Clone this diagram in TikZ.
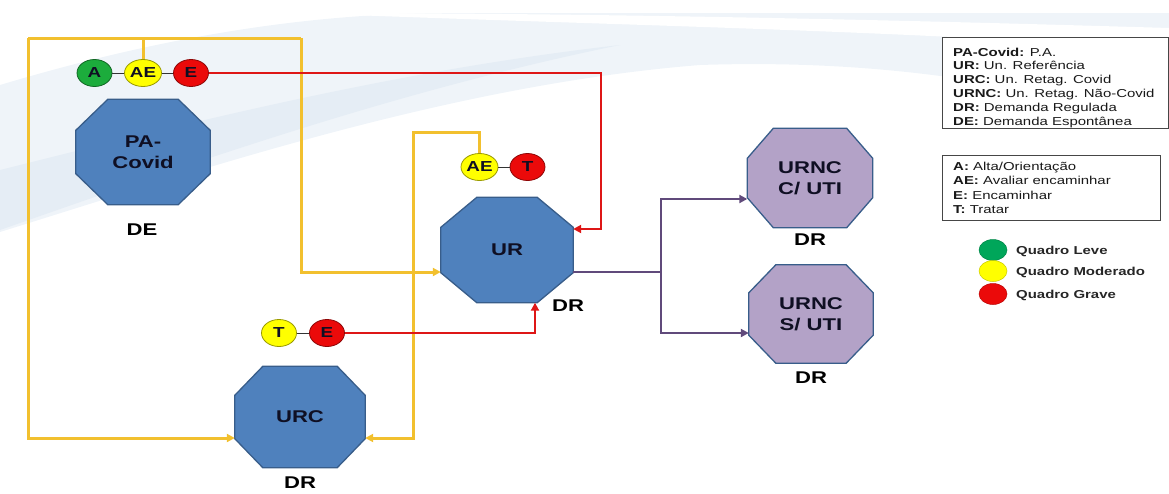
\documentclass[tikz,border=0pt]{standalone}
\usepackage{fontspec}
\setmainfont{Liberation Sans}[FakeStretch=1.3]
\usetikzlibrary{arrows.meta,calc,shapes.geometric}
\definecolor{octblue}{RGB}{79,129,189}
\definecolor{octedge}{RGB}{56,93,138}
\definecolor{octpurple}{RGB}{179,162,199}
\definecolor{ylw}{RGB}{242,192,46}
\definecolor{rd}{RGB}{222,22,22}
\definecolor{prp}{RGB}{96,74,123}
\definecolor{cgreen}{RGB}{28,172,60}
\definecolor{lgreen}{RGB}{0,166,90}
\definecolor{cyellow}{RGB}{255,255,0}
\definecolor{cred}{RGB}{235,10,10}
\definecolor{txtdark}{RGB}{15,15,35}
\definecolor{bgblue}{RGB}{239,244,249}
\definecolor{bgblue2}{RGB}{229,237,245}
\definecolor{legedge}{RGB}{70,70,70}
\newcommand{\octo}[9]{%
  \node[inner sep=0pt, minimum width=#4pt, minimum height=#5pt] (#1) at (#2,#3) {};
  \filldraw[fill=#8, draw=octedge, line width=1.3pt]
    ($(#1.north west)+(#6,0)$) -- ($(#1.north east)+(-#6,0)$) --
    ($(#1.north east)+(0,#7)$) -- ($(#1.south east)+(0,-#7)$) --
    ($(#1.south east)+(-#6,0)$) -- ($(#1.south west)+(#6,0)$) --
    ($(#1.south west)+(0,-#7)$) -- ($(#1.north west)+(0,#7)$) -- cycle;
  \node[octlabel] (#1-t) at (#1) {#9};
}
\begin{document}
\begin{tikzpicture}[x=1pt,y=-1pt,
  octlabel/.style={font=\fontsize{17}{21}\selectfont\bfseries, text=txtdark, align=center},
  lbl/.style={font=\fontsize{17}{18}\selectfont\bfseries, text=black},
  state/.style={ellipse, draw=#1!60!black, fill=#1, line width=0.8pt, minimum width=35pt,
    minimum height=27pt, inner sep=0pt, font=\fontsize{14.5}{14.5}\selectfont\bfseries, text=txtdark},
  yline/.style={draw=ylw, line width=3pt},
  rline/.style={draw=rd, line width=2.8pt},
  pline/.style={draw=prp, line width=2.8pt},
  thin/.style={draw=black!80, line width=0.8pt},
  arr/.style={-{Triangle[length=8pt,width=8pt]}},
  legbox/.style={draw=legedge, line width=1.2pt, fill=white, inner sep=0pt},
  legtxt/.style={font=\fontsize{11.5}{13}\selectfont, anchor=base west, inner sep=0pt, text=black!90},
  legdot/.style={ellipse, fill=#1, draw=#1!80!black, line width=0.5pt, minimum width=28pt, minimum height=21pt, inner sep=0pt},
  legq/.style={font=\fontsize{11.5}{13}\selectfont\bfseries, anchor=west, inner sep=0pt, text=black!85}
]
\useasboundingbox (0,0) rectangle (1169,493);
% background swoosh
\fill[bgblue] (0,85) .. controls (150,40) and (300,13) .. (450,13) -- (1169,13) -- (1169,125)
  .. controls (1000,75) and (850,60) .. (700,65)
  .. controls (450,85) and (200,170) .. (0,232) -- cycle;
\fill[bgblue2] (0,170) .. controls (200,120) and (400,70) .. (620,45)
  .. controls (400,90) and (200,160) .. (0,230) -- cycle;
\fill[white] (300,13) .. controls (600,13) and (900,20) .. (1169,28) -- (1169,50)
  .. controls (900,30) and (600,25) .. (300,13) -- cycle;

% octagons
\octo{PA}{143}{152}{134}{105}{32}{31}{octblue}{PA-\\Covid}
\octo{UR}{507}{250}{132}{105}{36}{30}{octblue}{UR}
\octo{URC}{300}{417}{130}{101}{28}{29}{octblue}{URC}
\octo{UC}{810}{178}{125}{99}{26}{30}{octpurple}{URNC\\C/ UTI}
\octo{US}{811}{314}{124}{98}{27}{28}{octpurple}{URNC\\S/ UTI}

% labels
\node[lbl] (lDE) at (142,230) {DE};
\node[lbl] (lUR) at (568,306) {DR};
\node[lbl] (lURC) at (300,483) {DR};
\node[lbl] (lUC) at (810,240) {DR};
\node[lbl] (lUS) at (811,378) {DR};

% status circles
\node[state=cgreen] (A1) at (94.5,73) {A};
\node[state=cyellow] (AE1) at (143,73) {AE};
\node[state=cred] (E1) at (191,73) {E};
\node[state=cyellow] (AE2) at (479.5,167) {AE};
\node[state=cred] (T2) at (527.5,167) {T};
\node[state=cyellow] (T3) at (279,333) {T};
\node[state=cred] (E3) at (327,333) {E};
\draw[thin] (A1) -- (AE1);
\draw[thin] (AE1) -- (E1);
\draw[thin] (AE2) -- (T2);
\draw[thin] (T3) -- (E3);

% coordinates
\coordinate (ytl) at (28,38);
\coordinate (ytr) at (301,38);
\coordinate (ymid) at (413,132);
\coordinate (rtr) at (601,73);
\coordinate (pj) at (661,272);
\coordinate (urW) at ($(UR.west)+(0,22)$);
\coordinate (urE) at ($(UR.east)+(0,-21)$);
\coordinate (urEo) at ($(UR.east)+(0,22)$);
\coordinate (urS) at ($(UR.south)+(28,0)$);
\coordinate (urcW) at ($(URC.west)+(0,21)$);
\coordinate (urcE) at ($(URC.east)+(0,21)$);
\coordinate (ucW) at ($(UC.west)+(0,21)$);
\coordinate (usW) at ($(US.west)+(0,19)$);

% yellow connectors
\draw[yline] (ytl) -- (ytr);
\draw[yline] (AE1.north) -- (AE1.north |- ytr);
\draw[yline,arr] (ytr) |- (urW);
\draw[yline,arr] (ytl) |- (urcW);
\draw[yline,arr] (AE2.north) |- (ymid) |- (urcE);

% red connectors
\draw[rline,arr] (E1.east) -- (rtr) |- (urE);
\draw[rline,arr] (E3.east) -| (urS);

% purple connectors
\draw[pline] (urEo) -- (pj);
\draw[pline,arr] (pj) |- (ucW);
\draw[pline,arr] (pj) |- (usW);

% legend box 1
\node[legbox, anchor=north west, minimum width=226pt, minimum height=91pt] (leg1) at (942,37) {};
\node[legtxt] (g1) at (953,56) {\textbf{PA-Covid:} P.A.};
\node[legtxt] (g2) at (953,69.8) {\textbf{UR:} Un. Referência};
\node[legtxt] (g3) at (953,83.6) {\textbf{URC:} Un. Retag. Covid};
\node[legtxt] (g4) at (953,97.4) {\textbf{URNC:} Un. Retag. Não-Covid};
\node[legtxt] (g5) at (953,111.2) {\textbf{DR:} Demanda Regulada};
\node[legtxt] (g6) at (953,125) {\textbf{DE:} Demanda Espontânea};

% legend box 2
\node[legbox, anchor=north west, minimum width=218pt, minimum height=65pt] (leg2) at (942,155) {};
\node[legtxt] (h1) at (953,170) {\textbf{A:} Alta/Orientação};
\node[legtxt] (h2) at (953,184.5) {\textbf{AE:} Avaliar encaminhar};
\node[legtxt] (h3) at (953,199) {\textbf{E:} Encaminhar};
\node[legtxt] (h4) at (953,213.5) {\textbf{T:} Tratar};

% legend dots
\node[legdot=lgreen] (d1) at (993,250) {};
\node[legdot=cyellow] (d2) at (993,271) {};
\node[legdot=cred] (d3) at (993,294) {};
\node[legq] (q1) at (1016,251) {Quadro Leve};
\node[legq] (q2) at (1016,272) {Quadro Moderado};
\node[legq] (q3) at (1016,295) {Quadro Grave};
\end{tikzpicture}
\end{document}
